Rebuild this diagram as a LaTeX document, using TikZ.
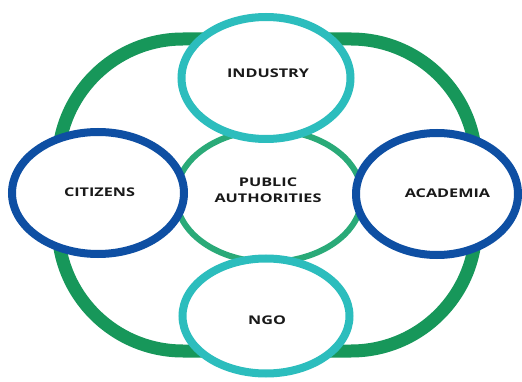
\documentclass[tikz,border=0pt]{standalone}
\usepackage{fontspec}
\setmainfont{Open Sans}[FakeStretch=1.35]
\usetikzlibrary{shapes.geometric}
\definecolor{outergreen}{HTML}{17975A}
\definecolor{innergreen}{HTML}{2AAA78}
\definecolor{tealc}{HTML}{2CBDBD}
\definecolor{bluec}{HTML}{0E4FA3}
\tikzset{
  lbl/.style={font=\bfseries\fontsize{12}{16}\selectfont, text=black!90, align=center},
  ell/.style={ellipse, fill=white, line width=8pt, inner sep=0pt},
}
\begin{document}
\begin{tikzpicture}[x=1pt,y=-1pt]
\useasboundingbox (0,0) rectangle (522,382);
\fill[white] (0,0) rectangle (522,382);
% outer ring
\draw[outergreen, line width=13pt, rounded corners=125pt] (58,39) rectangle (476,351);
% public authorities
\node[ellipse, draw=innergreen, line width=6pt, minimum width=186pt, minimum height=132pt, inner sep=0pt] (pa) at (269,196) {};
% outer nodes
\node[ell, draw=tealc, minimum width=169pt, minimum height=122pt] (ind) at (266,78) {};
\node[ell, draw=tealc, minimum width=167pt, minimum height=115pt] (ngo) at (266,316) {};
\node[ell, draw=bluec, minimum width=172pt, minimum height=122pt] (cit) at (98,193) {};
\node[ell, draw=bluec, minimum width=162pt, minimum height=122pt] (aca) at (437,194) {};
% labels
\node[lbl] (tind) at (268,73) {INDUSTRY};
\node[lbl] (tngo) at (267,320) {NGO};
\node[lbl] (tcit) at (99.5,192) {CITIZENS};
\node[lbl] (taca) at (447.5,193) {ACADEMIA};
\node[lbl] (tpa) at (268,190) {PUBLIC\\AUTHORITIES};
\end{tikzpicture}
\end{document}
